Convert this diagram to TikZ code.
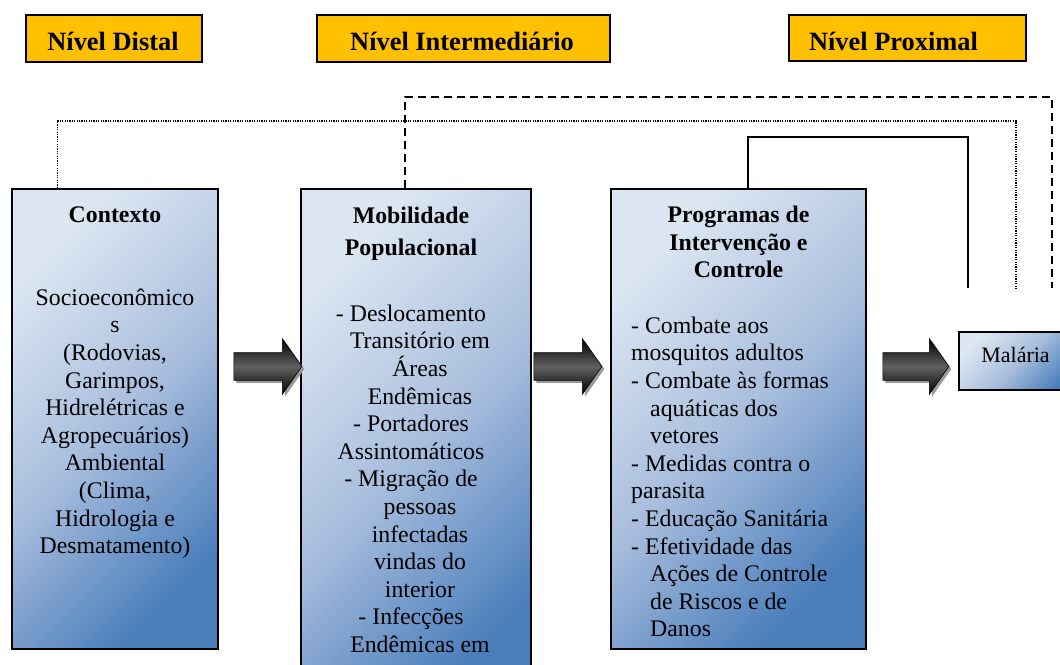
\documentclass[tikz,border=0pt]{standalone}
\usepackage{fontspec}
\setmainfont{Liberation Serif}
\usetikzlibrary{shapes.arrows,shadows,calc}
\definecolor{hdr}{HTML}{FFC000}
\definecolor{bLight}{HTML}{DCE6F2}
\definecolor{bMid}{HTML}{A9BEDD}
\definecolor{bDark}{HTML}{4A7EBB}
\newcommand\mystrut{\rule{0pt}{20pt}}
\newcommand\indm{\hspace*{18pt}}
\newcommand\indp{\hspace*{19pt}}
\begin{document}
\begin{tikzpicture}[x=1pt,y=-1pt,
  hdrbox/.style={draw=black, line width=2pt, fill=hdr, inner sep=0, anchor=north west,
    drop shadow={shadow xshift=1pt,shadow yshift=-1pt,fill=black!40,opacity=1}},
  hdrtxt/.style={font=\fontsize{26.4}{30}\selectfont\bfseries, anchor=base, inner sep=0},
  gbox/.style={draw=black, line width=2.2pt, inner sep=0, anchor=north west,
    top color=bLight, bottom color=bDark, middle color=bMid, shading angle=45,
    drop shadow={shadow xshift=1.2pt,shadow yshift=-1.2pt,fill=black!40,opacity=1}},
  ttl/.style={font=\fontsize{23.8}{27.6}\selectfont\bfseries, anchor=base, inner sep=0},
  mtxt/.style={font=\fontsize{23.8}{27.6}\selectfont, anchor=north, inner sep=0, align=center},
  blockarrow/.style={single arrow, draw=black, line width=0.6pt, minimum height=68,
    single arrow head extend=14pt, single arrow tip angle=110, inner xsep=0pt, inner ysep=13.5pt,
    top color=black, bottom color=black, middle color=black!62!white,
    drop shadow={shadow xshift=2.5pt, shadow yshift=-2.5pt, fill=black!40, opacity=1}},
  dotline/.style={line width=1.2pt, dash pattern=on 1.2pt off 1.2pt},
  dashline/.style={line width=2pt, dash pattern=on 8pt off 5pt},
  solidline/.style={line width=2pt}
]
\useasboundingbox[fill=white] (0,0) rectangle (1060,664);

% header boxes
\node[hdrbox, minimum width=176, minimum height=47] (hd) at (25,14) {};
\node[hdrbox, minimum width=293, minimum height=47] (hi) at (316,14) {};
\node[hdrbox, minimum width=237, minimum height=46] (hp) at (788,14) {};
\node[hdrtxt] (hdt) at (113,50) {Nível Distal};
\node[hdrtxt] (hit) at (462,50) {Nível Intermediário};
\node[hdrtxt] (hpt) at (893.5,50) {Nível Proximal};

% main boxes
\node[gbox, minimum width=206, minimum height=460] (ctx) at (11,188) {};
\node[gbox, minimum width=230, minimum height=520] (mob) at (300,188) {};
\node[gbox, minimum width=255, minimum height=460] (prog) at (610,188) {};
\node[gbox, minimum width=120, minimum height=58] (mal) at (958,331) {};

% texts
\node[ttl] (ctxt) at (115,222) {Contexto};
\node[mtxt] (ctxb) at (115,285) {\mystrut Socioeconômico\\s\\(Rodovias,\\Garimpos,\\Hidrelétricas e\\Agropecuários)\\Ambiental\\(Clima,\\Hidrologia e\\Desmatamento)};

\node[mtxt, font=\fontsize{23.8}{32}\selectfont\bfseries] (mobt) at (411,203) {\mystrut Mobilidade\\Populacional};
\node[mtxt] (mobb) at (411,301) {\mystrut - Deslocamento\\\indm Transitório em\\\indm Áreas\\\indm Endêmicas\\- Portadores\\Assintomáticos\\- Migração de\\\indm pessoas\\\indm infectadas\\\indm vindas do\\\indm interior\\- Infecções\\\indm Endêmicas em};

\node[mtxt, font=\fontsize{23.8}{27.8}\selectfont\bfseries] (progt) at (738.5,202) {\mystrut Programas de\\Intervenção e\\Controle};
\node[mtxt, anchor=north west, align=left] (progb) at (631,313) {\mystrut - Combate aos\\mosquitos adultos\\- Combate às formas\\\indp aquáticas dos\\\indp vetores\\- Medidas contra o\\parasita\\- Educação Sanitária\\- Efetividade das\\\indp Ações de Controle\\\indp de Riscos e de\\\indp Danos};

\node[font=\fontsize{22}{26}\selectfont, anchor=base, inner sep=0] (malt) at (1015.5,362) {Malária};

% block arrows
\node[blockarrow] (a1) at (263,366.5) {};
\node[blockarrow] (a2) at (563,366.5) {};
\node[blockarrow, minimum height=66] (a3) at (911,366.5) {};

% connectors
\coordinate (dotTurn) at (1016,121);
\coordinate (dotEnd) at (1016,288);
\coordinate (dashTurn) at (1052,97);
\coordinate (dashEnd) at (1052,288);
\coordinate (solTurn) at (968,137);
\coordinate (solEnd) at (968,288);
\draw[dotline] ([xshift=-58pt]ctx.north) |- (dotTurn) -- (dotEnd);
\draw[dashline] ([xshift=-11pt]mob.north) |- (dashTurn) -- (dashEnd);
\draw[solidline] ([xshift=9.5pt]prog.north) |- (solTurn) -- (solEnd);
\end{tikzpicture}
\end{document}
